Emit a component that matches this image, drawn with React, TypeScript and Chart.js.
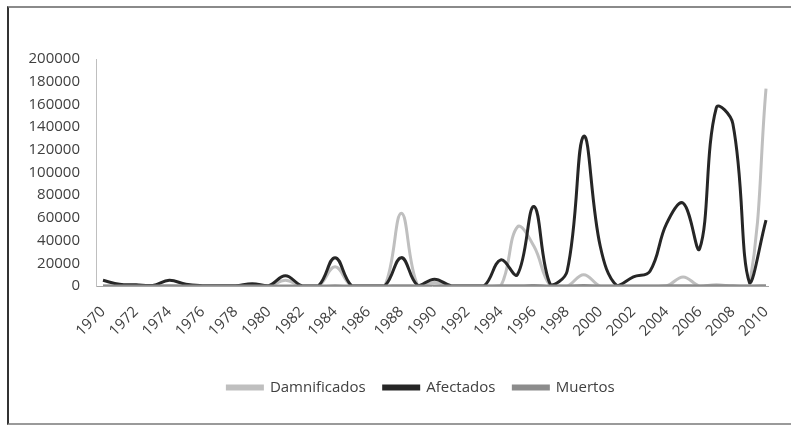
import React, { useEffect, useRef } from "react";
import { Chart, registerables } from "chart.js";

Chart.register(...registerables);

const years = [
  1970, 1971, 1972, 1973, 1974, 1975, 1976, 1977, 1978, 1979,
  1980, 1981, 1982, 1983, 1984, 1985, 1986, 1987, 1988, 1989,
  1990, 1991, 1992, 1993, 1994, 1995, 1996, 1997, 1998, 1999,
  2000, 2001, 2002, 2003, 2004, 2005, 2006, 2007, 2008, 2009, 2010,
];

const tickYears = [
  1970, 1972, 1974, 1976, 1978, 1980, 1982, 1984, 1986, 1988, 1990,
  1992, 1994, 1996, 1998, 2000, 2002, 2004, 2006, 2008, 2010,
];

const yTicks = [0, 20000, 40000, 60000, 80000, 100000, 120000, 140000, 160000, 180000, 200000];

const damnificados = [
  0, 0, 0, 0, 500, 0, 0, 0, 0, 0,
  0, 5000, 0, 0, 17000, 0, 0, 0, 64000, 0,
  3000, 0, 0, 0, 0, 52000, 35000, 0, 0, 10000,
  0, 0, 0, 0, 0, 8000, 0, 1000, 0, 0, 174000,
];

const afectados = [
  5000, 1500, 1000, 500, 5000, 1500, 300, 200, 200, 2000,
  300, 9000, 200, 200, 25000, 200, 100, 200, 25000, 300,
  6000, 200, 100, 300, 23000, 10000, 70000, 1000, 13000, 132000,
  35000, 300, 8000, 13000, 55000, 73000, 33000, 157000, 143000, 3000, 58000,
];

const muertos = [
  60, 20, 10, 15, 40, 10, 5, 5, 10, 20,
  10, 80, 10, 5, 150, 10, 5, 10, 300, 10,
  40, 5, 5, 10, 120, 200, 350, 10, 60, 400,
  100, 10, 40, 60, 150, 200, 100, 250, 200, 20, 300,
];

const seriesNames = ["Damnificados", "Afectados", "Muertos"];
const seriesColors = ["#bfbfbf", "#262626", "#8c8c8c"];

const FONT = "'Open Sans', 'Noto Sans', sans-serif";

const legendShift = {
  id: "legendShift",
  afterLayout(chart: any) {
    const lg = chart.legend;
    if (lg) {
      lg.left += 37;
      lg.right += 37;
    }
  },
};

export default function App() {
  const canvasRef = useRef<HTMLCanvasElement | null>(null);

  useEffect(() => {
    const canvas = canvasRef.current;
    if (!canvas) return;
    const toPts = (vals: number[]) => years.map((yr, i) => ({ x: yr, y: vals[i] }));
    const allSeries = [damnificados, afectados, muertos];

    const chart = new Chart(canvas, {
      type: "line",
      data: {
        datasets: allSeries.map((vals, i) => ({
          label: seriesNames[i],
          data: toPts(vals),
          borderColor: seriesColors[i],
          backgroundColor: seriesColors[i],
          borderWidth: 3,
          pointRadius: 0,
          tension: 0.4,
          fill: false,
          order: 3 - i,
        })),
      },
      plugins: [legendShift],
      options: {
        responsive: false,
        animation: false,
        devicePixelRatio: 1,
        layout: { padding: { left: 0, right: 23, top: 59, bottom: 21 } },
        plugins: {
          tooltip: { enabled: false },
          legend: {
            position: "bottom",
            labels: {
              boxWidth: 35,
              boxHeight: 3,
              padding: 18,
              color: "#404040",
              font: { family: FONT, size: 15 },
              sort: (a: any, b: any) => a.datasetIndex - b.datasetIndex,
            },
          },
        },
        scales: {
          x: {
            type: "linear",
            min: 1969.578,
            max: 2010.12,
            afterBuildTicks: (scale: any) => {
              scale.ticks = tickYears.map((v) => ({ value: v }));
            },
            afterFit: (scale: any) => {
              scale.height = 76;
              scale.paddingLeft = 0;
              scale.paddingRight = 0;
            },
            grid: { color: "rgba(0,0,0,0)", drawTicks: false },
            border: { display: true, color: "#a6a6a6", width: 1 },
            ticks: {
              autoSkip: false,
              minRotation: 45,
              maxRotation: 45,
              padding: 17,
              color: "#404040",
              font: { family: FONT, size: 15 },
              callback: (v: any) => String(v),
            },
          },
          y: {
            type: "linear",
            min: 0,
            max: 200000,
            afterBuildTicks: (scale: any) => {
              scale.ticks = yTicks.map((v) => ({ value: v }));
            },
            afterFit: (scale: any) => {
              scale.width = 96;
              scale.paddingTop = 0;
              scale.paddingBottom = 0;
            },
            grid: { color: "rgba(0,0,0,0)", drawTicks: false },
            border: { display: true, color: "#bfbfbf", width: 1 },
            ticks: {
              padding: 16,
              color: "#404040",
              font: { family: FONT, size: 15 },
              callback: (v: any) => String(v),
            },
          },
        },
      },
    });
    return () => chart.destroy();
  }, []);

  return (
    <div>
      <div
        style={{
          position: "absolute",
          left: 7,
          top: 6,
          width: 800,
          height: 419,
          boxSizing: "border-box",
          borderTop: "2px solid #8a8a8a",
          borderLeft: "2px solid #333333",
          borderBottom: "2px solid #9a9a9a",
        }}
      />
      <canvas
        ref={canvasRef}
        width={791}
        height={426}
        style={{ position: "absolute", left: 0, top: 0, width: 791, height: 426 }}
      />
    </div>
  );
}
